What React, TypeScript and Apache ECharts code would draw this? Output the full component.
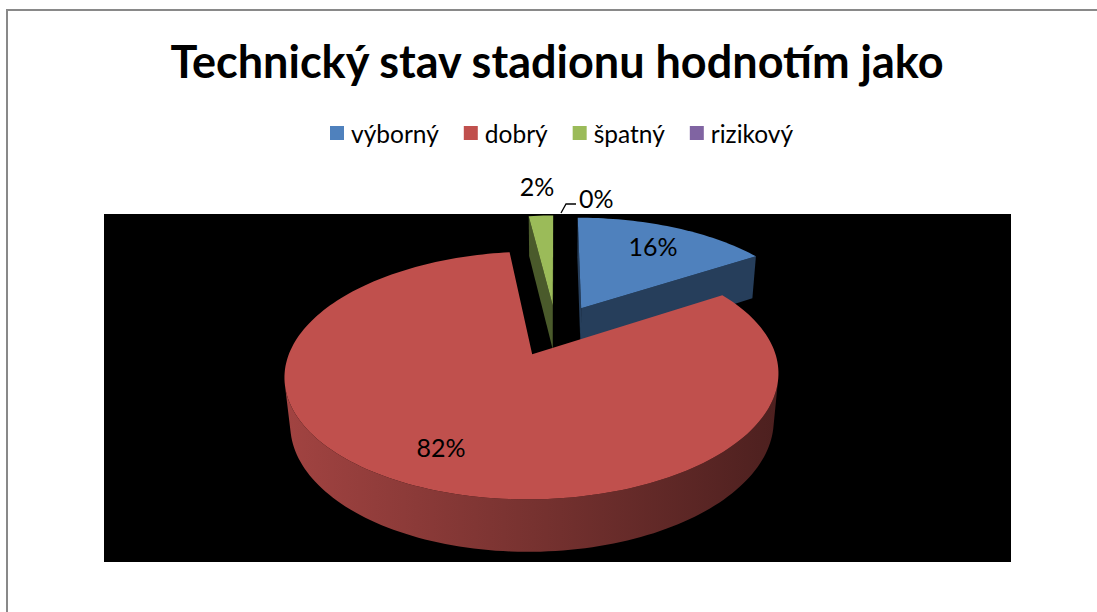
import React, { useEffect, useRef } from "react";
import * as echarts from "echarts";

const TITLE = "Technický stav stadionu hodnotím jako";
const categories = ["výborný", "dobrý", "špatný", "rizikový"];
const shares = [16, 82, 2, 0];
const sliceColors = ["#4F81BD", "#C0504D", "#9BBB59", "#8064A2"];

// view geometry of the 3D pie (layout only)
const CX = 556;
const CY = 330;
const F = 1245;
const DIST = 5.3;
const PHI = (28.5 * Math.PI) / 180;
const THICK = 0.225;
const EXPLODE = 0.23;
const SIN = Math.sin(PHI);
const COS = Math.cos(PHI);
const CAM_Z = DIST * COS;
const FONT = "Lato, 'Open Sans', sans-serif";

function depthOf(X: number, Z: number, H: number) {
  return DIST - H * SIN - Z * COS;
}
function proj(X: number, Z: number, H: number): number[] {
  const d = depthOf(X, Z, H);
  return [CX + (F * X) / d, CY - (F * (H * COS - Z * SIN)) / d];
}
function shadeColor(hex: string, k: number) {
  const n = parseInt(hex.slice(1), 16);
  const r = Math.round(((n >> 16) & 255) * k);
  const g = Math.round(((n >> 8) & 255) * k);
  const b = Math.round((n & 255) * k);
  return `rgb(${r},${g},${b})`;
}

const total = shares.reduce((a, b) => a + b, 0);
const starts = shares.map((_, i) => shares.slice(0, i).reduce((a, b) => a + b, 0));

function makeRender(idx: number) {
  return (_params: any, api: any) => {
    const start = api.value(0) as number;
    const val = api.value(1) as number;
    const color = sliceColors[idx];
    const t0 = (start / total) * 2 * Math.PI;
    const t1 = ((start + val) / total) * 2 * Math.PI;
    const tm = (t0 + t1) / 2;
    const ox = EXPLODE * Math.sin(tm);
    const oz = -EXPLODE * Math.cos(tm);
    const P = (r: number, t: number, H: number) => proj(ox + r * Math.sin(t), oz - r * Math.cos(t), H);
    const children: any[] = [];
    const pct = Math.round((val / total) * 100) + "%";

    if (val > 0) {
      const steps = Math.max(2, Math.ceil((t1 - t0) / (Math.PI / 120)));
      const ts = Array.from({ length: steps + 1 }, (_, k) => t0 + ((t1 - t0) * k) / steps);
      // top face
      const top = [proj(ox, oz, 0), ...ts.map((t) => P(1, t, 0))];
      const topDepth = depthOf(ox + 0.5 * Math.sin(tm), oz - 0.5 * Math.cos(tm), 0);
      children.push({
        type: "polygon",
        shape: { points: top },
        style: { fill: color },
        z2: 200 - topDepth * 5,
      });
      // outer wall
      let run: number[] = [];
      const xl = proj(ox - 1, oz, 0)[0];
      const xr = proj(ox + 1, oz, 0)[0];
      const flush = () => {
        if (run.length >= 2) {
          const pts = [
            ...run.map((t) => P(1, t, 0)),
            ...run.slice().reverse().map((t) => P(1, t, -THICK)),
          ];
          const dAvg =
            run.reduce((s, t) => s + depthOf(ox + Math.sin(t), oz - Math.cos(t), 0), 0) / run.length;
          children.push({
            type: "polygon",
            shape: { points: pts },
            style: {
              fill: new echarts.graphic.LinearGradient(
                xl, 0, xr, 0,
                [
                  { offset: 0, color: shadeColor(color, 0.84) },
                  { offset: 0.5, color: shadeColor(color, 0.62) },
                  { offset: 1, color: shadeColor(color, 0.4) },
                ],
                true
              ),
            },
            z2: 100 - dAvg * 5,
          });
        }
        run = [];
      };
      ts.forEach((t) => {
        const nx = Math.sin(t);
        const nz = -Math.cos(t);
        const px = ox + nx;
        const pz = oz + nz;
        if (nx * (0 - px) + nz * (CAM_Z - pz) > 0) run.push(t);
        else flush();
      });
      flush();
      // radial faces
      if (val < total) {
        [
          [t0, -1],
          [t1, 1],
        ].forEach(([t, sgn]) => {
          const nx = sgn * Math.cos(t);
          const nz = sgn * Math.sin(t);
          const mx = ox + 0.5 * Math.sin(t);
          const mz = oz - 0.5 * Math.cos(t);
          if (nx * (0 - mx) + nz * (CAM_Z - mz) > 0) {
            const pts = [proj(ox, oz, 0), P(1, t, 0), P(1, t, -THICK), proj(ox, oz, -THICK)];
            children.push({
              type: "polygon",
              shape: { points: pts },
              style: { fill: shadeColor(color, 0.48) },
              z2: 100 - depthOf(mx, mz, 0) * 5,
            });
          }
        });
      }
    }

    // data label
    const labelStyle = { text: pct, fill: "#000", fontSize: 25, fontFamily: FONT };
    if (val / total >= 0.05) {
      const [lx, ly] = P(0.75, tm, 0);
      children.push({
        type: "text",
        x: lx,
        y: ly,
        style: { ...labelStyle, align: "center", verticalAlign: "middle" },
        z2: 300,
      });
    } else if (val > 0) {
      const [lx, ly] = P(1.4, tm, 0);
      children.push({
        type: "text",
        x: lx,
        y: ly,
        style: { ...labelStyle, align: "center", verticalAlign: "middle" },
        z2: 300,
      });
    } else {
      const [ex, ey] = P(1.0, tm, 0);
      const p0 = [ex + 5, ey - 2.5];
      const p1 = [ex + 10, ey - 11.5];
      const p2 = [ex + 20, ey - 11.5];
      children.push({
        type: "polyline",
        shape: { points: [p0, p1, p2] },
        style: { stroke: "#000", lineWidth: 1.3, fill: null },
        z2: 300,
      });
      children.push({
        type: "text",
        x: p2[0] + 3,
        y: p2[1] - 6,
        style: { ...labelStyle, align: "left", verticalAlign: "middle" },
        z2: 300,
      });
    }
    return { type: "group", children };
  };
}

export default function App() {
  const ref = useRef<HTMLDivElement>(null);
  useEffect(() => {
    document.body.style.margin = "0";
    if (!ref.current) return;
    const chart = echarts.init(ref.current, null, { renderer: "svg" });
    chart.setOption({
      animation: false,
      backgroundColor: "#fff",
      title: {
        text: TITLE,
        left: 557,
        textAlign: "center",
        top: 38,
        padding: 0,
        textStyle: { fontFamily: FONT, fontSize: 45, fontWeight: "bold", color: "#000" },
      },
      legend: {
        data: categories,
        left: 330,
        top: 120,
        padding: 0,
        icon: "rect",
        itemWidth: 14,
        itemHeight: 14,
        itemGap: 25,
        selectedMode: false,
        textStyle: { fontFamily: FONT, fontSize: 24.5, color: "#000", lineHeight: 26, padding: [0, 0, 0, 2] },
      },
      graphic: [
        {
          type: "rect",
          shape: { x: 7, y: 10, width: 1200, height: 700 },
          style: { fill: "#fff", stroke: "#898989", lineWidth: 2 },
          silent: true,
        },
        {
          type: "rect",
          shape: { x: 104, y: 214, width: 907, height: 348 },
          style: { fill: "#000" },
          silent: true,
        },
      ],
      series: categories.map((name, i) => ({
        type: "custom",
        name,
        coordinateSystem: "none",
        silent: true,
        itemStyle: { color: sliceColors[i] },
        data: [[starts[i], shares[i]]],
        renderItem: makeRender(i),
      })),
    });
    return () => chart.dispose();
  }, []);
  return <div ref={ref} style={{ width: 1097, height: 612 }} />;
}
